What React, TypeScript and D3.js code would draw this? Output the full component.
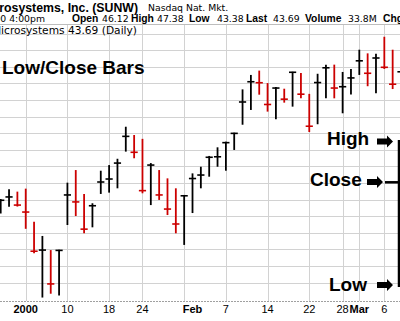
import React from "react";
import * as d3 from "d3";

const dates = [
  "1999-12-29","1999-12-30","1999-12-31","2000-01-03","2000-01-04","2000-01-05","2000-01-06","2000-01-07",
  "2000-01-10","2000-01-11","2000-01-12","2000-01-13","2000-01-14","2000-01-18","2000-01-19","2000-01-20",
  "2000-01-21","2000-01-24","2000-01-25","2000-01-26","2000-01-27","2000-01-28","2000-01-31","2000-02-01",
  "2000-02-02","2000-02-03","2000-02-04","2000-02-07","2000-02-08","2000-02-09","2000-02-10","2000-02-11",
  "2000-02-14","2000-02-15","2000-02-16","2000-02-17","2000-02-18","2000-02-22","2000-02-23","2000-02-24",
  "2000-02-25","2000-02-28","2000-02-29","2000-03-01","2000-03-02","2000-03-03","2000-03-06","2000-03-07",
  "2000-03-08",
];
const highs = [
  37.04, 37.63, 37.48, 37.66, 35.67, 34.81, 33.96, 33.98, 38.02, 38.78,
  37.34, 36.78, 38.74, 39.08, 39.46, 41.39, 40.89, 40.66, 39.2, 38.78,
  38.28, 37.68, 37.28, 38.58, 38.98, 39.63, 40.15, 40.49, 41.03, 43.64,
  44.51, 44.77, 44.02, 43.78, 43.68, 44.7, 44.63, 43.37, 44.58, 45.13,
  45.13, 44.69, 44.86, 46.03, 45.81, 45.78, 46.81, 46.03, 45.2,
];
const lows = [
  36.17, 36.57, 36.58, 35.24, 33.77, 31.1, 31.33, 31.22, 35.47, 36.01,
  34.97, 35.33, 37.34, 37.42, 37.68, 39.89, 39.49, 37.38, 36.67, 36.98,
  36.07, 34.97, 34.27, 36.19, 37.68, 38.38, 38.98, 38.74, 39.99, 41.51,
  42.4, 43.32, 42.3, 41.84, 42.84, 42.6, 43.1, 41.07, 41.54, 43.1,
  43.1, 42.2, 43.33, 44.51, 43.83, 43.4, 44.87, 43.66, 43.5,
];
const closes = [
  36.96, 37.16, 36.67, 36.25, 33.89, 33.96, 31.92, 33.94, 37.28, 36.86,
  35.22, 36.63, 38.06, 38.24, 39.2, 40.81, 39.85, 37.54, 39.08, 37.28,
  36.43, 35.53, 37.23, 38.27, 38.48, 39.55, 39.58, 40.43, 40.99, 42.88,
  44.1, 44.04, 42.73, 43.72, 43.05, 44.67, 43.35, 41.42, 44.05, 44.94,
  43.72, 43.8, 44.33, 45.36, 44.61, 45.53, 44.97, 43.95, 44.7,
];

const tickDates = ["2000-01-03","2000-01-10","2000-01-18","2000-01-24","2000-02-01","2000-02-07","2000-02-14","2000-02-22","2000-02-28","2000-03-01","2000-03-06"];
const tickLabels = ["2000","10","18","24","Feb","7","14","22","28","Mar","6"];
const gridDates = ["2000-01-03","2000-01-10","2000-01-18","2000-01-24","2000-01-31","2000-02-07","2000-02-14","2000-02-22","2000-02-28","2000-03-01","2000-03-06"];
const priceGrid = [32, 33, 34, 35, 36, 37, 38, 39, 40, 41, 42, 43, 44, 45, 46, 47];

const headerLabels = ["Open", "High", "Low", "Last", "Volume", "Chg"];
const headerValues = ["46.12", "47.38", "43.38", "43.69", "33.8M", ""];

const W = 400;
const H = 321;
const PLOT_TOP = 24;
const PLOT_BOTTOM = 301;

const UP = "#000000";
const DOWN = "#cc0000";
const GRID = "#d2d2d2";
const SANS = "'Liberation Sans', Arial, sans-serif";
const VERD = "'DejaVu Sans', Verdana, sans-serif";

const labelX = [72, 131, 189, 246, 305, 383];
const valueX = [102, 157, 217, 273, 348, 0];

function Arrow({ x0, cy }: { x0: number; cy: number }) {
  const p = `M${x0},${cy - 3} L${x0 + 10},${cy - 3} L${x0 + 10},${cy - 6} L${x0 + 16},${cy} L${x0 + 10},${cy + 6} L${x0 + 10},${cy + 3} L${x0},${cy + 3} Z`;
  return <path d={p} fill="#000" />;
}

export default function App() {
  const x = d3.scalePoint<string>().domain(dates).range([0.7, 401]);
  const y = d3.scaleLinear().domain([31, 47]).range([299.2, 33.6]);

  const bars = dates.map((d, i) => ({
    d,
    h: highs[i],
    l: lows[i],
    c: closes[i],
    up: i === 0 || closes[i] >= closes[i - 1],
  }));

  return (
    <svg
      width={W}
      height={H}
      viewBox={`0 0 ${W} ${H}`}
      style={{ position: "absolute", left: 0, top: 0, background: "#fff" }}
    >
      <rect x={0} y={0} width={W} height={H} fill="#fff" />

      {/* horizontal grid */}
      {priceGrid.map((p) => (
        <line key={"h" + p} x1={0} x2={W} y1={Math.round(y(p)) + 0.5} y2={Math.round(y(p)) + 0.5} stroke={GRID} strokeWidth={1} />
      ))}
      {/* vertical grid */}
      {gridDates.map((d) => (
        <line key={"v" + d} x1={Math.round(x(d)!) + 0.5} x2={Math.round(x(d)!) + 0.5} y1={PLOT_TOP} y2={PLOT_BOTTOM} stroke={GRID} strokeWidth={1} />
      ))}
      {/* frame top */}
      <line x1={0} x2={W} y1={PLOT_TOP + 0.5} y2={PLOT_TOP + 0.5} stroke="#bdbdbd" strokeWidth={1} />
      {/* x axis */}
      <line x1={0} x2={W} y1={PLOT_BOTTOM + 0.5} y2={PLOT_BOTTOM + 0.5} stroke="#a0a0a0" strokeWidth={1} strokeDasharray="2,1" />

      {/* header */}
      <text x={138} y={11.5} textAnchor="end" fontFamily={SANS} fontWeight="bold" fontSize={12.3} fill="#000">
        Sun Microsystems, Inc. (SUNW)
      </text>
      <text x={148} y={11} fontFamily={VERD} fontSize={9.3} fill="#000">Nasdaq Nat. Mkt.</text>

      <text x={45} y={21.5} textAnchor="end" fontFamily={VERD} fontSize={9.3} fill="#000">3/6/2000 4:00pm</text>
      {headerLabels.map((lab, i) => (
        <g key={lab}>
          <text x={labelX[i]} y={21.5} fontFamily={SANS} fontWeight="bold" fontSize={10.3} fill="#000">{lab}</text>
          {headerValues[i] && (
            <text x={valueX[i]} y={21.5} fontFamily={VERD} fontSize={9.3} fill="#000">{headerValues[i]}</text>
          )}
        </g>
      ))}
      <text x={137} y={34} textAnchor="end" fontFamily={VERD} fontSize={10.65} fill="#000">
        Sun Microsystems 43.69 (Daily)
      </text>

      {/* title */}
      <text x={2} y={73.5} fontFamily={SANS} fontWeight="bold" fontSize={19} fill="#000">Low/Close Bars</text>

      {/* bars */}
      {bars.map((b) => {
        const cx = x(b.d)!;
        const col = b.up ? UP : DOWN;
        return (
          <g key={b.d}>
            <line x1={cx} x2={cx} y1={y(b.h)} y2={y(b.l)} stroke={col} strokeWidth={1.8} />
            <line x1={cx - 3.6} x2={cx + 3.6} y1={y(b.c)} y2={y(b.c)} stroke={col} strokeWidth={1.6} />
          </g>
        );
      })}

      {/* x labels */}
      {tickDates.map((d, i) => {
        const bold = isNaN(+tickLabels[i]) || tickLabels[i].length === 4;
        return (
          <text key={"t" + d} x={x(d)!} y={313} textAnchor="middle" fontFamily={SANS} fontSize={11} fontWeight={bold ? "bold" : "normal"} fill="#000">
            {tickLabels[i]}
          </text>
        );
      })}

      {/* annotation */}
      <text x={327} y={145} fontFamily={SANS} fontWeight="bold" fontSize={19} fill="#000">High</text>
      <Arrow x0={377} cy={141.5} />
      <text x={310} y={186} fontFamily={SANS} fontWeight="bold" fontSize={19} fill="#000">Close</text>
      <Arrow x0={367} cy={182} />
      <text x={329} y={291} fontFamily={SANS} fontWeight="bold" fontSize={19} fill="#000">Low</text>
      <Arrow x0={377} cy={285} />
      <line x1={399} x2={399} y1={140} y2={287} stroke="#000" strokeWidth={2.5} />
      <line x1={385} x2={399} y1={182.3} y2={182.3} stroke="#000" strokeWidth={2.5} />
    </svg>
  );
}
